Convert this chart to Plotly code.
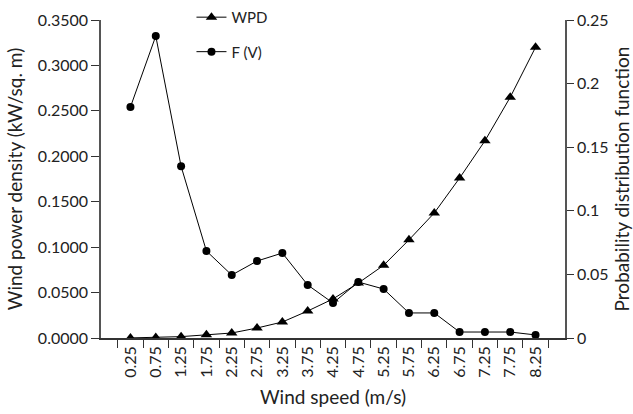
import plotly.graph_objects as go

wind_speed = ["0.25", "0.75", "1.25", "1.75", "2.25", "2.75", "3.25", "3.75", "4.25",
              "4.75", "5.25", "5.75", "6.25", "6.75", "7.25", "7.75", "8.25"]
wpd = [0.0001, 0.0005, 0.0015, 0.0035, 0.0055, 0.011, 0.0176, 0.0297, 0.043,
       0.0605, 0.080, 0.108, 0.1376, 0.176, 0.217, 0.265, 0.320]
fv = [0.1816, 0.2374, 0.135, 0.0684, 0.0495, 0.0605, 0.0668, 0.0417, 0.0275,
      0.044, 0.0385, 0.0197, 0.0197, 0.0047, 0.0047, 0.0047, 0.0024]

FONT = "Lato"
fig = go.Figure()
fig.add_trace(go.Scatter(x=wind_speed, y=wpd, name="WPD", mode="lines+markers",
                         legendgroup="a",
                         line=dict(color="black", width=1),
                         marker=dict(symbol="triangle-up", size=10, color="black")))
fig.add_trace(go.Scatter(x=wind_speed, y=fv, name="F (V)", mode="lines+markers", yaxis="y2",
                         legendgroup="b",
                         line=dict(color="black", width=1),
                         marker=dict(symbol="circle", size=8, color="black")))

fig.update_layout(
    width=633, height=414,
    margin=dict(l=101, r=68, t=20, b=76, autoexpand=False),
    paper_bgcolor="white", plot_bgcolor="white",
    font=dict(family=FONT, size=16, color="#222"),
    showlegend=True,
    legend=dict(x=0.195, y=1.06, xanchor="left", yanchor="top", bgcolor="rgba(0,0,0,0)",
                font=dict(size=15), tracegroupgap=12, itemwidth=30, traceorder="grouped"),
    xaxis=dict(type="category", title=dict(text="Wind speed (m/s)", standoff=14),
               tickangle=-90, ticks="outside", tickson="boundaries", ticklen=8,
               showline=True, linecolor="#333", linewidth=1.5, showgrid=False,
               tickcolor="#333", zeroline=False, automargin=False),
    yaxis=dict(title=dict(text="Wind power density (kW/sq. m)", standoff=10),
               range=[0, 0.35], dtick=0.05, tickformat=".4f",
               ticks="outside", ticklen=8, showline=True, linecolor="#555", linewidth=1.5,
               showgrid=False, zeroline=False, tickcolor="#333", automargin=False),
    yaxis2=dict(title=dict(text="Probability distribution function", standoff=12),
                overlaying="y", side="right", range=[0, 0.25], dtick=0.05,
                ticks="outside", ticklen=7, showline=True, linecolor="#555", linewidth=1.5,
                showgrid=False, zeroline=False, tickcolor="#333", automargin=False),
)
fig.write_html("out.html", config={"displayModeBar": False},
               post_script="document.body.style.margin='0';")
